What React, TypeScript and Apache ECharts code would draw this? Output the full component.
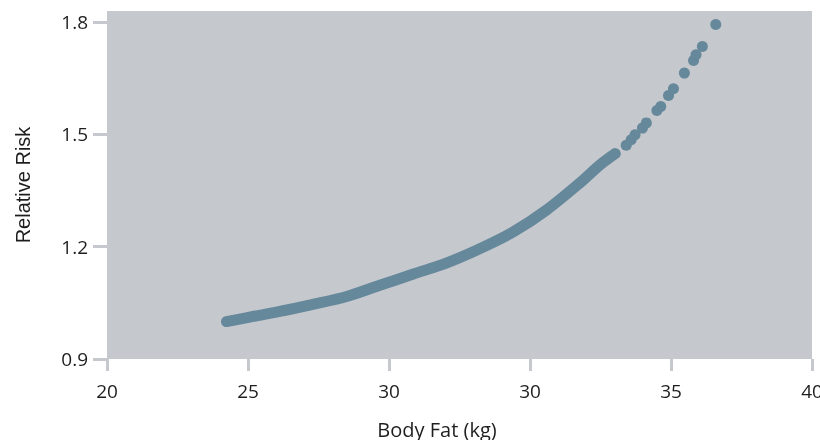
import React, { useEffect, useRef } from "react";
import * as echarts from "echarts";

// Axis ticks (x tick values are placed every 4 units; their printed labels are rounded to 5)
const xTickValues = [20, 24, 28, 32, 36, 40];
const xTickLabels = ["20", "25", "30", "30", "35", "40"];
const yTickValues = [0.9, 1.2, 1.5, 1.8];
const yTickLabels = ["0.9", "1.2", "1.5", "1.8"];

// Dense part of the curve (points overlap into a continuous band)
const denseBodyFat = [23.39, 24.05, 24.9, 25.84, 26.8, 27.74, 28.69, 29.64, 30.58, 31.53, 32.48, 33.42, 33.99, 34.42];
const denseRisk = [1.0, 1.012, 1.027, 1.046, 1.067, 1.097, 1.127, 1.157, 1.195, 1.24, 1.299, 1.371, 1.419, 1.449];

// Sparse tail points
const tailBodyFat = [34.73, 34.87, 34.98, 35.19, 35.3, 35.6, 35.71, 35.93, 36.07, 36.38, 36.64, 36.71, 36.89, 37.27];
const tailRisk = [1.471, 1.486, 1.499, 1.517, 1.531, 1.564, 1.575, 1.604, 1.622, 1.664, 1.698, 1.713, 1.735, 1.794];

const POINT = "#66889b";
const BG = "#c5c8cd";
const TEXT = "#1e1e1e";
const TICK_FONT = "'Open Sans', 'Noto Sans', sans-serif";

export default function App() {
  const ref = useRef<HTMLDivElement>(null);

  useEffect(() => {
    if (!ref.current) return;
    const chart = echarts.init(ref.current, null, { renderer: "svg" });
    const dense = denseBodyFat.map((x, i) => [x, denseRisk[i]]);
    const tail = tailBodyFat.map((x, i) => [x, tailRisk[i]]);
    chart.setOption({
      animation: false,
      grid: {
        left: 107,
        right: 8,
        top: 11,
        bottom: 81,
        show: true,
        backgroundColor: BG,
        borderWidth: 0,
        outerBoundsMode: "none",
        containLabel: false,
      },
      xAxis: {
        type: "value",
        min: 20,
        max: 40,
        interval: 4,
        axisLine: { show: false },
        axisTick: { show: true, length: 12, lineStyle: { color: BG, width: 3 } },
        splitLine: { show: false },
        axisLabel: {
          margin: 22,
          color: TEXT,
          fontSize: 19,
          fontFamily: TICK_FONT,
          hideOverlap: false,
          formatter: (v: number) => {
            const i = xTickValues.indexOf(Math.round(v));
            return i >= 0 ? xTickLabels[i] : "";
          },
        },
      },
      yAxis: {
        type: "value",
        min: 0.9,
        max: 1.83,
        name: "Relative Risk",
        nameLocation: "middle",
        nameRotate: 90,
        nameGap: 74,
        nameTextStyle: {
          color: TEXT,
          fontSize: 20,
          fontFamily: "'Liberation Sans', Arial, sans-serif",
        },
        axisLine: { show: false },
        axisTick: {
          show: true,
          length: 14,
          customValues: yTickValues,
          lineStyle: { color: BG, width: 3 },
        },
        splitLine: { show: false },
        axisLabel: {
          margin: 19,
          color: TEXT,
          fontSize: 19,
          fontFamily: TICK_FONT,
          customValues: yTickValues,
          formatter: (v: number) => {
            const i = yTickValues.findIndex((t) => Math.abs(t - v) < 1e-6);
            return i >= 0 ? yTickLabels[i] : "";
          },
        },
      },
      graphic: [
        {
          type: "text",
          x: 437,
          y: 429,
          style: {
            text: "Body Fat (kg)",
            fill: TEXT,
            font: "20px 'Open Sans', 'Noto Sans', sans-serif",
            align: "center",
            verticalAlign: "middle",
          },
        },
      ],
      series: [
        {
          type: "line",
          data: dense,
          smooth: 0.3,
          showSymbol: false,
          symbol: "none",
          lineStyle: { color: POINT, width: 11, cap: "round", join: "round" },
          silent: true,
        },
        {
          type: "scatter",
          data: tail,
          symbolSize: 11,
          itemStyle: { color: POINT, opacity: 1 },
        },
      ],
    });
    return () => chart.dispose();
  }, []);

  return <div ref={ref} style={{ width: 820, height: 440, position: "fixed", left: 0, top: 0 }} />;
}
